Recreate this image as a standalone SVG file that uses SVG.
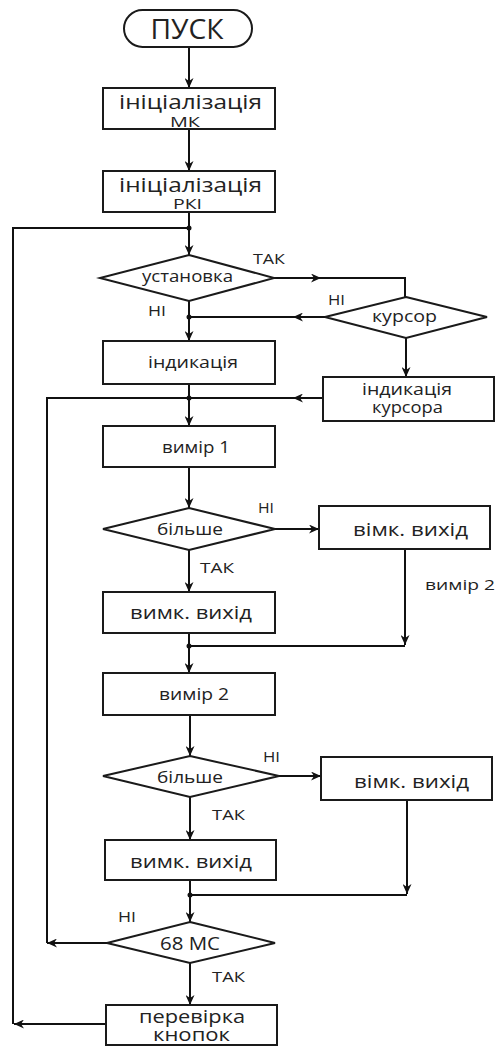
<svg xmlns="http://www.w3.org/2000/svg" width="496" height="1048" viewBox="0 0 496 1048">
<defs>
<marker id="arr" markerUnits="userSpaceOnUse" markerWidth="11" markerHeight="9" refX="10" refY="4.5" orient="auto">
<path d="M0,0 L10,4.5 L0,9 L3,4.5 z" fill="#111"/>
</marker>
<style>
.sh{fill:#fff;stroke:#1a1a1a;stroke-width:2}
.ln{fill:none;stroke:#111;stroke-width:2}
.ar{fill:none;stroke:#111;stroke-width:2;marker-end:url(#arr)}
.dot{fill:#111}
text{font-family:"Open Sans","Liberation Sans",sans-serif;fill:#222;text-anchor:middle}
.lb{text-anchor:start;font-size:15px}
</style>
</defs>
<rect width="496" height="1048" fill="#fff"/>
<g id="connectors">
<line class="ar" x1="189" y1="47" x2="189" y2="88"/>
<line class="ar" x1="189" y1="129" x2="189" y2="171"/>
<line class="ar" x1="189" y1="212" x2="189" y2="255"/>
<line class="ar" x1="274" y1="278" x2="321" y2="278"/>
<path class="ln" d="M319,278 H405 V297"/>
<line class="ar" x1="325" y1="317" x2="293" y2="317"/>
<path class="ln" d="M295,317 H189"/>
<line class="ar" x1="189" y1="301" x2="189" y2="341"/>
<line class="ar" x1="406" y1="338" x2="406" y2="377"/>
<line class="ar" x1="323" y1="398" x2="293" y2="398"/>
<path class="ln" d="M295,398 H47 V943"/>
<line class="ar" x1="189" y1="384" x2="189" y2="426"/>
<line class="ar" x1="189" y1="467" x2="189" y2="508"/>
<line class="ar" x1="275" y1="529" x2="319" y2="529"/>
<line class="ar" x1="189" y1="550" x2="189" y2="592"/>
<line class="ar" x1="405" y1="549" x2="405" y2="645"/>
<path class="ln" d="M405,646 H189"/>
<line class="ar" x1="189" y1="633" x2="189" y2="673"/>
<line class="ar" x1="190" y1="715" x2="190" y2="756"/>
<line class="ar" x1="279" y1="776" x2="321" y2="776"/>
<line class="ar" x1="190" y1="797" x2="190" y2="840"/>
<line class="ar" x1="407" y1="800" x2="407" y2="894"/>
<path class="ln" d="M407,895 H190"/>
<line class="ar" x1="190" y1="880" x2="190" y2="922"/>
<line class="ar" x1="107" y1="943" x2="47" y2="943"/>
<line class="ar" x1="190" y1="963" x2="190" y2="1005"/>
<line class="ar" x1="106" y1="1024" x2="14" y2="1024"/>
<path class="ln" d="M13,1024 V228 H189"/>
<circle class="dot" cx="189" cy="228" r="2.5"/>
<circle class="dot" cx="189" cy="317" r="2.5"/>
<circle class="dot" cx="189" cy="398" r="2.5"/>
<circle class="dot" cx="189" cy="646" r="2.5"/>
<circle class="dot" cx="190" cy="895" r="2.5"/>
<text class="lb" x="253" y="264" textLength="32" lengthAdjust="spacingAndGlyphs">ТАК</text>
<text class="lb" x="328" y="305" textLength="17" lengthAdjust="spacingAndGlyphs">НІ</text>
<text class="lb" x="148" y="316" textLength="18" lengthAdjust="spacingAndGlyphs">НІ</text>
<text class="lb" x="258" y="513" textLength="16" lengthAdjust="spacingAndGlyphs">НІ</text>
<text class="lb" x="200" y="573" textLength="34" lengthAdjust="spacingAndGlyphs">ТАК</text>
<text class="lb" x="425" y="590" textLength="70" lengthAdjust="spacingAndGlyphs">вимір 2</text>
<text class="lb" x="263" y="762" textLength="17" lengthAdjust="spacingAndGlyphs">НІ</text>
<text class="lb" x="212" y="820" textLength="33" lengthAdjust="spacingAndGlyphs">ТАК</text>
<text class="lb" x="118" y="922" textLength="18" lengthAdjust="spacingAndGlyphs">НІ</text>
<text class="lb" x="212" y="982" textLength="33" lengthAdjust="spacingAndGlyphs">ТАК</text>
</g>
<g id="start">
<rect class="sh" x="124" y="10" width="128" height="37" rx="18.5"/>
<text x="187" y="39" style="font-size:27px" textLength="73" lengthAdjust="spacingAndGlyphs">ПУСК</text>
</g>
<g id="init-mk">
<rect class="sh" x="103" y="88" width="172" height="41"/>
<text><tspan x="190.5" y="109" style="font-size:20px" textLength="143" lengthAdjust="spacingAndGlyphs">ініціалізація</tspan><tspan x="185" y="127" style="font-size:14px" textLength="30" lengthAdjust="spacingAndGlyphs">МК</tspan></text>
</g>
<g id="init-lcd">
<rect class="sh" x="103" y="171" width="172" height="41"/>
<text><tspan x="190.5" y="192" style="font-size:20px" textLength="143" lengthAdjust="spacingAndGlyphs">ініціалізація</tspan><tspan x="187.5" y="209" style="font-size:14px" textLength="29" lengthAdjust="spacingAndGlyphs">РКІ</tspan></text>
</g>
<g id="setup">
<polygon class="sh" points="189,255 274,278 189,301 100,278"/>
<text x="187.5" y="282" style="font-size:17px" textLength="91" lengthAdjust="spacingAndGlyphs">установка</text>
</g>
<g id="cursor">
<polygon class="sh" points="406,297 487,317 406,338 325,317"/>
<text x="404.5" y="322" style="font-size:17px" textLength="65" lengthAdjust="spacingAndGlyphs">курсор</text>
</g>
<g id="display">
<rect class="sh" x="103" y="341" width="172" height="43"/>
<text x="193" y="368" style="font-size:17px" textLength="90" lengthAdjust="spacingAndGlyphs">індикація</text>
</g>
<g id="display-cursor">
<rect class="sh" x="323" y="377" width="171" height="44"/>
<text style="font-size:17px"><tspan x="407" y="395" textLength="90" lengthAdjust="spacingAndGlyphs">індикація</tspan><tspan x="407.5" y="413" textLength="71" lengthAdjust="spacingAndGlyphs">курсора</tspan></text>
</g>
<g id="measure1">
<rect class="sh" x="103" y="426" width="172" height="41"/>
<text x="196" y="453" style="font-size:16px" textLength="68" lengthAdjust="spacingAndGlyphs">вимір 1</text>
</g>
<g id="more1">
<polygon class="sh" points="189,508 275,529 189,550 103,529"/>
<text x="190" y="535" style="font-size:17px" textLength="66" lengthAdjust="spacingAndGlyphs">більше</text>
</g>
<g id="on1">
<rect class="sh" x="319" y="506" width="171" height="43"/>
<text x="410.5" y="536" style="font-size:19px" textLength="115" lengthAdjust="spacingAndGlyphs">вімк. вихід</text>
</g>
<g id="off1">
<rect class="sh" x="103" y="592" width="172" height="41"/>
<text x="191" y="619" style="font-size:19px" textLength="122" lengthAdjust="spacingAndGlyphs">вимк. вихід</text>
</g>
<g id="measure2">
<rect class="sh" x="103" y="673" width="172" height="42"/>
<text x="194" y="700" style="font-size:16px" textLength="70" lengthAdjust="spacingAndGlyphs">вимір 2</text>
</g>
<g id="more2">
<polygon class="sh" points="190,756 279,776 190,797 103,776"/>
<text x="190" y="783" style="font-size:17px" textLength="66" lengthAdjust="spacingAndGlyphs">більше</text>
</g>
<g id="on2">
<rect class="sh" x="321" y="757" width="171" height="43"/>
<text x="411.5" y="788" style="font-size:19px" textLength="115" lengthAdjust="spacingAndGlyphs">вімк. вихід</text>
</g>
<g id="off2">
<rect class="sh" x="105" y="840" width="171" height="40"/>
<text x="191" y="868" style="font-size:19px" textLength="122" lengthAdjust="spacingAndGlyphs">вимк. вихід</text>
</g>
<g id="t68">
<polygon class="sh" points="190,922 275,943 190,963 107,943"/>
<text x="190" y="950" style="font-size:18px" textLength="60" lengthAdjust="spacingAndGlyphs">68 МС</text>
</g>
<g id="buttons">
<rect class="sh" x="106" y="1005" width="171" height="40"/>
<text style="font-size:18px"><tspan x="192" y="1023" textLength="106" lengthAdjust="spacingAndGlyphs">перевірка</tspan><tspan x="191.5" y="1041" textLength="77" lengthAdjust="spacingAndGlyphs">кнопок</tspan></text>
</g>
</svg>
